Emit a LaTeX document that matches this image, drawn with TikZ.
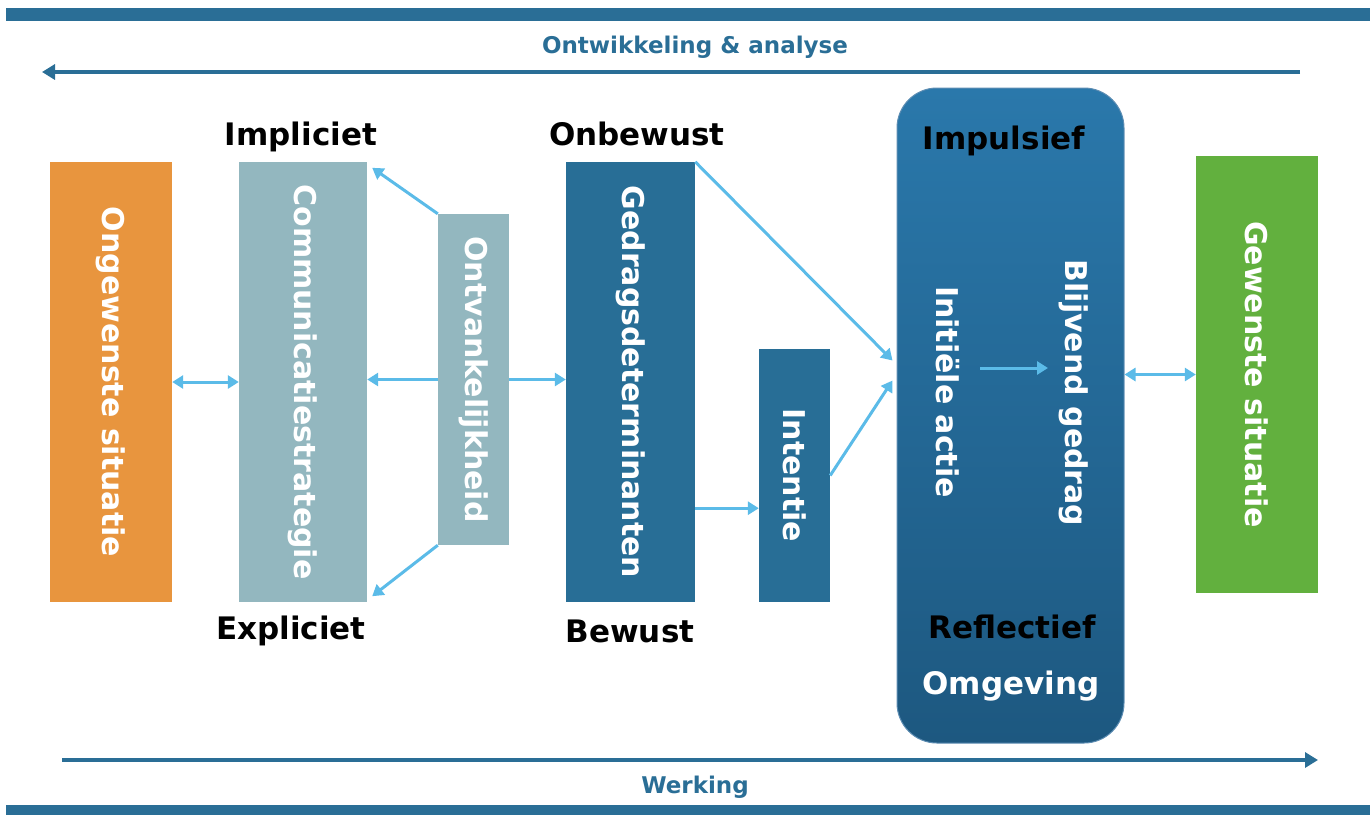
\documentclass[tikz,border=0pt]{standalone}
\usepackage{fontspec}
\setmainfont{DejaVu Sans}
\usetikzlibrary{arrows.meta,calc}
\definecolor{barblue}{HTML}{2A6E96}
\definecolor{orangeb}{HTML}{E8953E}
\definecolor{greyb}{HTML}{93B7BF}
\definecolor{darkb}{HTML}{286E96}
\definecolor{greenb}{HTML}{62B03E}
\definecolor{lightarrow}{HTML}{5BBBE8}
\definecolor{bigtop}{HTML}{2A78AB}
\definecolor{bigbot}{HTML}{1D5880}
\definecolor{bigedge}{HTML}{5D8DB3}
\tikzset{
  box/.style={inner sep=0pt, draw=none},
  vtext/.style={rotate=-90, text=white, font=\bfseries\fontsize{30}{30}\selectfont, inner sep=0pt},
  side/.style={text=black, font=\bfseries\fontsize{31}{31}\selectfont, inner sep=0pt},
  axislabel/.style={text=barblue, font=\bfseries\fontsize{23}{23}\selectfont, inner sep=0pt},
  lb/.style={draw=lightarrow, line width=3pt, -{Triangle[width=13pt,length=11pt]}},
  lbb/.style={draw=lightarrow, line width=3pt, {Triangle[width=13pt,length=11pt]}-{Triangle[width=13pt,length=11pt]}},
  axis/.style={draw=barblue, line width=3.5pt, -{Triangle[width=15pt,length=13pt]}},
}
\begin{document}
\begin{tikzpicture}[x=1pt,y=-1pt]
\useasboundingbox (0,0) rectangle (1370,815);
% bars
\fill[barblue] (6,8) rectangle (1370,21);
\fill[barblue] (6,805) rectangle (1370,815);
% axis arrows
\coordinate (ta1) at (1300,72);
\coordinate (ta2) at (42,72);
\draw[axis] (ta1) -- (ta2);
\node[axislabel] (tl) at (695,47) {Ontwikkeling \& analyse};
\coordinate (ba1) at (62,760);
\coordinate (ba2) at (1318,760);
\draw[axis] (ba1) -- (ba2);
\node[axislabel] (bl) at (695,787) {Werking};
% boxes
\node[box, fill=orangeb, minimum width=122pt, minimum height=440pt] (ong) at (111,382) {};
\node[vtext] (ongt) at (ong.center) {Ongewenste situatie};
\node[box, fill=greyb, minimum width=128pt, minimum height=440pt] (comm) at (303,382) {};
\node[vtext] (commt) at (comm.center) {Communicatiestrategie};
\node[box, fill=greyb, minimum width=71pt, minimum height=331pt] (ontv) at (473.5,379.5) {};
\node[vtext] (ontvt) at (ontv.center) {Ontvankelijkheid};
\node[box, fill=darkb, minimum width=129pt, minimum height=440pt] (ged) at (630.5,382) {};
\node[vtext] (gedt) at (ged.center) {Gedragsdeterminanten};
\node[box, fill=darkb, minimum width=71pt, minimum height=253pt] (int) at (794.5,475.5) {};
\node[vtext] (intt) at (int.center) {Intentie};
\node[box, rounded corners=40pt, top color=bigtop, bottom color=bigbot, draw=bigedge, line width=1pt, minimum width=227pt, minimum height=655pt] (big) at (1010.5,415.5) {};
\node[box, fill=greenb, minimum width=122pt, minimum height=437pt] (gew) at (1257,374.5) {};
\node[vtext] (gewt) at (gew.center) {Gewenste situatie};
% labels
\node[side] (impl) at (301,137) {Impliciet};
\node[side] (expl) at (291,631) {Expliciet};
\node[side] (onb) at (637,134) {Onbewust};
\node[side] (bew) at (630,631) {Bewust};
\node[side] (imp) at (1004,141) {Impulsief};
\node[side] (refl) at (1012,627) {Reflectief};
\node[side, text=white] (omg) at (1011,686) {Omgeving};
\node[vtext] (init) at (948,392) {Initiële actie};
\node[vtext] (blijv) at (1074,393) {Blijvend gedrag};
% connectors
\draw[lbb] (ong.east) -- (comm.west);
\draw[lb] (ontv.west) -- (ontv.west -| comm.east);
\draw[lb] (ontv.east) -- (ontv.east -| ged.west);
\draw[lb] (ontv.north west) -- ($(comm.north east)+(5,6)$);
\draw[lb] (ontv.south west) -- ($(comm.south east)+(5,-6)$);
\draw[lb] (ged.north east) -- ($(big.west)+(-4,-55)$);
\coordinate (gedout) at ($(ged.south east)+(0,-94)$);
\draw[lb] (gedout) -- (gedout -| int.west);
\draw[lb] (int.east) -- ($(big.west)+(-4,-35)$);
\coordinate (ia1) at (980,368);
\coordinate (ia2) at (1048,368);
\draw[lb] (ia1) -- (ia2);
\draw[lbb] (gew.west -| big.east) -- (gew.west);
\end{tikzpicture}
\end{document}
